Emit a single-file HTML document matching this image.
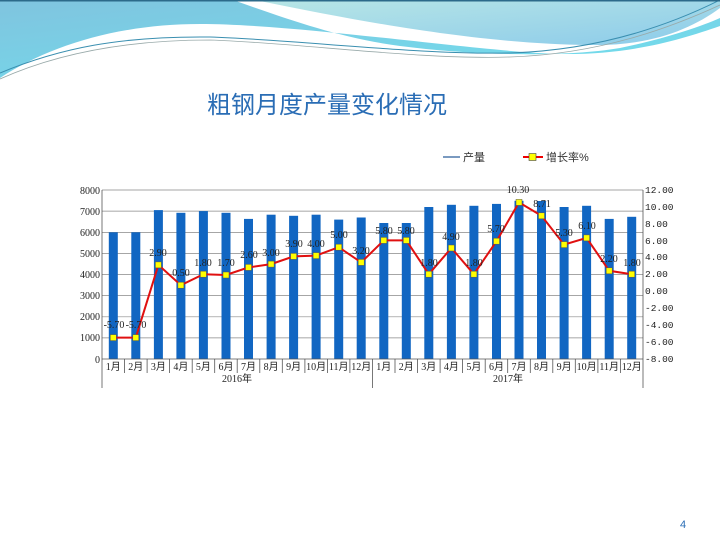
<!DOCTYPE html>
<html><head><meta charset="utf-8"><style>
html,body{margin:0;padding:0;background:#fff}
svg{display:block}
</style></head><body>
<svg width="720" height="540" viewBox="0 0 720 540" xmlns="http://www.w3.org/2000/svg">
<defs>
<linearGradient id="g1" x1="0" y1="0" x2="1" y2="1"><stop offset="0" stop-color="#80c4df"/><stop offset="1" stop-color="#6fe0ee"/></linearGradient>
<linearGradient id="g2" x1="0" y1="0" x2="1" y2="1"><stop offset="0" stop-color="#b8e6e6"/><stop offset="1" stop-color="#8ccbea"/></linearGradient>
</defs>
<rect width="720" height="540" fill="#fff"/>
<path d="M0,0 L233,0 C290,20 340,38 400,46 C470,55 560,58 620,48 C660,40 700,27 720,18 L720,26 C680,40 630,55 560,54 C480,52 300,24 200,24 C120,24 50,45 0,78 Z" fill="url(#g1)"/>
<path d="M255,0 L720,0 L720,8 C690,30 650,46 590,45 C500,44 400,30 255,0 Z" fill="url(#g2)"/>
<path d="M0,73 C60,48 120,36 210,37 C300,40 420,55 510,53 C600,50 670,25 720,0" fill="none" stroke="#3a8fb0" stroke-width="1"/>
<path d="M0,79 C60,52 130,40 210,40 C300,43 420,60 510,57 C600,54 670,28 720,5" fill="none" stroke="#9aa" stroke-width="0.8"/>
<rect x="0" y="0" width="720" height="1.5" fill="#2c6a8a"/>
<text x="207" y="113" font-family="Liberation Sans, Noto Sans CJK SC, sans-serif" font-size="24" fill="#2a6db5">粗钢月度产量变化情况</text>
<line x1="443" y1="157" x2="460" y2="157" stroke="#2a5d9a" stroke-width="1.2"/>
<text x="463" y="161" font-family="Liberation Sans, Noto Sans CJK SC, sans-serif" font-size="11" fill="#333">产量</text>
<line x1="523" y1="157" x2="543" y2="157" stroke="#e00" stroke-width="2"/>
<rect x="529" y="153.5" width="7" height="7" fill="#ffff00" stroke="#444" stroke-width="0.6"/>
<text x="546" y="161" font-family="Liberation Sans, Noto Sans CJK SC, sans-serif" font-size="11" fill="#333">增长率%</text>
<g stroke="#888" stroke-width="0.7">
<line x1="102" y1="190" x2="643" y2="190"/><line x1="102" y1="211.1" x2="643" y2="211.1"/><line x1="102" y1="232.4" x2="643" y2="232.4"/><line x1="102" y1="253.5" x2="643" y2="253.5"/><line x1="102" y1="274.5" x2="643" y2="274.5"/><line x1="102" y1="295.6" x2="643" y2="295.6"/><line x1="102" y1="316.8" x2="643" y2="316.8"/><line x1="102" y1="337.9" x2="643" y2="337.9"/>
</g>
<g fill="#1166c2">
<rect x="108.8" y="232.3" width="9" height="126.7"/><rect x="131.3" y="232.3" width="9" height="126.7"/><rect x="153.9" y="210.1" width="9" height="148.9"/><rect x="176.4" y="212.8" width="9" height="146.2"/><rect x="198.9" y="211.1" width="9" height="147.9"/><rect x="221.5" y="212.8" width="9" height="146.2"/><rect x="244" y="218.9" width="9" height="140.1"/><rect x="266.6" y="214.7" width="9" height="144.3"/><rect x="289.1" y="215.8" width="9" height="143.2"/><rect x="311.6" y="214.7" width="9" height="144.3"/><rect x="334.2" y="219.6" width="9" height="139.4"/><rect x="356.7" y="217.5" width="9" height="141.5"/>
<rect x="379.3" y="223" width="9" height="136"/><rect x="401.8" y="223" width="9" height="136"/><rect x="424.3" y="207" width="9" height="152"/><rect x="446.9" y="204.8" width="9" height="154.2"/><rect x="469.4" y="205.8" width="9" height="153.2"/><rect x="492" y="203.9" width="9" height="155.1"/><rect x="514.5" y="200.8" width="9" height="158.2"/><rect x="537" y="201" width="9" height="158"/><rect x="559.6" y="207" width="9" height="152"/><rect x="582.1" y="205.8" width="9" height="153.2"/><rect x="604.7" y="218.9" width="9" height="140.1"/><rect x="627.2" y="216.8" width="9" height="142.2"/>
</g>
<g stroke="#555" stroke-width="0.8" fill="none">
<line x1="102" y1="190" x2="102" y2="388"/><line x1="643" y1="190" x2="643" y2="388"/><line x1="102" y1="359" x2="643" y2="359"/>
<line x1="372.5" y1="359" x2="372.5" y2="388"/>
<path d="M124.5,359v14M147.1,359v14M169.6,359v14M192.2,359v14M214.7,359v14M237.2,359v14M259.8,359v14M282.3,359v14M304.9,359v14M327.4,359v14M349.9,359v14M395,359v14M417.6,359v14M440.1,359v14M462.6,359v14M485.2,359v14M507.7,359v14M530.3,359v14M552.8,359v14M575.3,359v14M597.9,359v14M620.4,359v14"/>
</g>
<g font-family="Liberation Serif, Noto Sans CJK SC, serif" font-size="10" fill="#222" text-anchor="end">
<text x="100" y="194">8000</text><text x="100" y="215">7000</text><text x="100" y="236">6000</text><text x="100" y="257">5000</text><text x="100" y="278">4000</text><text x="100" y="299">3000</text><text x="100" y="320">2000</text><text x="100" y="341">1000</text><text x="100" y="363">0</text>
</g>
<g font-family="Liberation Mono, monospace" font-size="9.5" fill="#222">
<text x="645" y="193">12.00</text><text x="645" y="210">10.00</text><text x="645" y="227">8.00</text><text x="645" y="244">6.00</text><text x="645" y="260">4.00</text><text x="645" y="277">2.00</text><text x="645" y="294">0.00</text><text x="645" y="311">-2.00</text><text x="645" y="328">-4.00</text><text x="645" y="345">-6.00</text><text x="645" y="362">-8.00</text>
</g>
<g font-family="Liberation Serif, Noto Sans CJK SC, serif" font-size="10" fill="#222" text-anchor="middle">
<text x="113.3" y="370">1月</text><text x="135.8" y="370">2月</text><text x="158.4" y="370">3月</text><text x="180.9" y="370">4月</text><text x="203.4" y="370">5月</text><text x="226" y="370">6月</text><text x="248.5" y="370">7月</text><text x="271.1" y="370">8月</text><text x="293.6" y="370">9月</text><text x="316.1" y="370">10月</text><text x="338.7" y="370">11月</text><text x="361.2" y="370">12月</text>
<text x="383.8" y="370">1月</text><text x="406.3" y="370">2月</text><text x="428.8" y="370">3月</text><text x="451.4" y="370">4月</text><text x="473.9" y="370">5月</text><text x="496.5" y="370">6月</text><text x="519" y="370">7月</text><text x="541.5" y="370">8月</text><text x="564.1" y="370">9月</text><text x="586.6" y="370">10月</text><text x="609.2" y="370">11月</text><text x="631.7" y="370">12月</text>
<text x="237" y="382">2016年</text><text x="508" y="382">2017年</text>
</g>
<polyline fill="none" stroke="#e01010" stroke-width="2" points="113.3,337.6 135.8,337.6 158.4,264.9 180.9,285.2 203.4,274.2 226,275 248.5,267.4 271.1,264.1 293.6,256.4 316.1,255.6 338.7,247.2 361.2,262.4 383.8,240.4 406.3,240.4 428.8,274.2 451.4,248 473.9,274.2 496.5,241.2 519,202.4 541.5,215.8 564.1,244.6 586.6,237.9 609.2,270.8 631.7,274.2"/>
<g fill="#ffff00" stroke="#555" stroke-width="0.5">
<rect x="110.3" y="334.6" width="6" height="6"/><rect x="132.8" y="334.6" width="6" height="6"/><rect x="155.4" y="261.9" width="6" height="6"/><rect x="177.9" y="282.2" width="6" height="6"/><rect x="200.4" y="271.2" width="6" height="6"/><rect x="223" y="272" width="6" height="6"/><rect x="245.5" y="264.4" width="6" height="6"/><rect x="268.1" y="261.1" width="6" height="6"/><rect x="290.6" y="253.4" width="6" height="6"/><rect x="313.1" y="252.6" width="6" height="6"/><rect x="335.7" y="244.2" width="6" height="6"/><rect x="358.2" y="259.4" width="6" height="6"/>
<rect x="380.8" y="237.4" width="6" height="6"/><rect x="403.3" y="237.4" width="6" height="6"/><rect x="425.8" y="271.2" width="6" height="6"/><rect x="448.4" y="245" width="6" height="6"/><rect x="470.9" y="271.2" width="6" height="6"/><rect x="493.5" y="238.2" width="6" height="6"/><rect x="516" y="199.4" width="6" height="6"/><rect x="538.5" y="212.8" width="6" height="6"/><rect x="561.1" y="241.6" width="6" height="6"/><rect x="583.6" y="234.9" width="6" height="6"/><rect x="606.2" y="267.8" width="6" height="6"/><rect x="628.7" y="271.2" width="6" height="6"/>
</g>
<g font-family="Liberation Serif, serif" font-size="10" fill="#222" text-anchor="middle">
<text x="114" y="328">-5.70</text><text x="136" y="328">-5.70</text><text x="158" y="256">2.90</text><text x="181" y="276">0.50</text><text x="203" y="266">1.80</text><text x="226" y="266">1.70</text><text x="249" y="258">2.60</text><text x="271" y="256">3.00</text><text x="294" y="247">3.90</text><text x="316" y="247">4.00</text><text x="339" y="238">5.00</text><text x="361" y="254">3.20</text>
<text x="384" y="234">5.80</text><text x="406" y="234">5.80</text><text x="429" y="266">1.80</text><text x="451" y="240">4.90</text><text x="474" y="266">1.80</text><text x="496" y="232">5.70</text><text x="518" y="193">10.30</text><text x="542" y="207">8.71</text><text x="564" y="236">5.30</text><text x="587" y="229">6.10</text><text x="609" y="262">2.20</text><text x="632" y="266">1.80</text>
</g>
<text x="680" y="528" font-family="Liberation Sans, sans-serif" font-size="11" fill="#2a6db5">4</text>
</svg>
</body></html>
